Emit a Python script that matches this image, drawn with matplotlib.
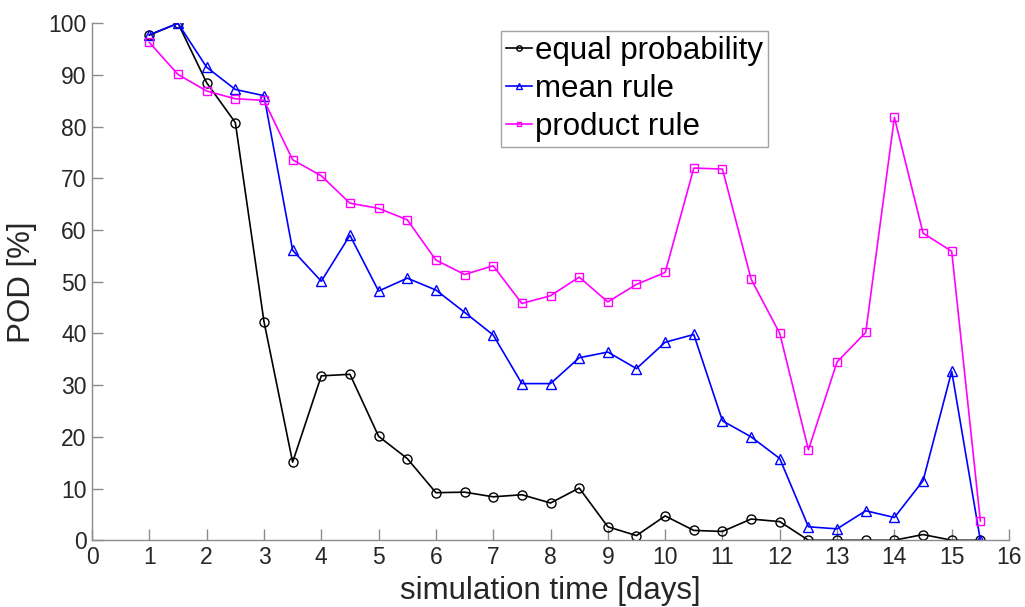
import numpy as np
import matplotlib
matplotlib.use("Agg")
import matplotlib.pyplot as plt

plt.rcParams['font.family'] = ['Liberation Sans', 'DejaVu Sans']

days = np.arange(1, 16, 0.5)

equal_prob = [97.7, 100, 88.5, 80.8, 42.3, 15.1, 31.8, 32.1, 20.1, 15.8,
              9.2, 9.3, 8.4, 8.8, 7.2, 10.1, 2.6, 0.9, 4.7, 1.9,
              1.7, 4.1, 3.6, 0, 0, 0, 0, 1.1, 0, 0]
mean_rule = [97.8, 100, 91.5, 87.2, 86.0, 56.1, 50.1, 59.0, 48.2, 50.7,
             48.4, 44.1, 39.7, 30.3, 30.3, 35.3, 36.4, 33.2, 38.3, 39.8,
             23.1, 20.0, 15.8, 2.6, 2.2, 5.7, 4.4, 11.5, 32.7, 0]
product_rule = [96.3, 90.1, 86.9, 85.4, 85.1, 73.6, 70.5, 65.2, 64.2, 62.0,
                54.2, 51.4, 53.1, 45.8, 47.3, 50.9, 46.1, 49.5, 51.8, 72.0,
                71.8, 50.5, 40.0, 17.5, 34.5, 40.2, 81.8, 59.4, 55.9, 3.7]

fig = plt.figure(figsize=(10.25, 6.07), dpi=100)
ax = fig.add_axes([0.0898, 0.110, 0.8946, 0.8516])

ax.plot(days, equal_prob, '-o', color='k', lw=1.2, ms=6.5, mfc='none', mew=1.0,
        label='equal probability')
ax.plot(days, mean_rule, '-^', color='#0000ff', lw=1.2, ms=6.5, mfc='none', mew=1.0,
        label='mean rule')
ax.plot(days, product_rule, '-s', color='#ff00ff', lw=1.2, ms=5.5, mfc='none', mew=1.0,
        label='product rule')

ax.set_xlim(0, 16)
ax.set_ylim(0, 100)
ax.set_xticks(range(0, 17))
ax.set_yticks(range(0, 101, 10))

for s in ['top', 'right']:
    ax.spines[s].set_visible(False)
for s in ['left', 'bottom']:
    ax.spines[s].set_color('#8c8c8c')
    ax.spines[s].set_linewidth(1.0)
ax.tick_params(direction='in', length=8, width=1.0, color='#8c8c8c',
               labelsize=16.5, labelcolor='#262626', pad=4)

ax.set_xlabel('simulation time [days]', fontsize=22.5, color='#262626', labelpad=5)
ax.set_ylabel('POD [%]', fontsize=22.5, color='#262626', labelpad=8)

leg = ax.legend(loc='upper left', bbox_to_anchor=(0.446, 0.985), borderaxespad=0,
                fontsize=22.5, handlelength=0.85, handletextpad=0.1, borderpad=0.15,
                labelspacing=0.26, fancybox=False, markerscale=0.6)
leg.get_frame().set_edgecolor('#8c8c8c')
leg.get_frame().set_linewidth(1.0)

fig.savefig('out.png', dpi=100)
